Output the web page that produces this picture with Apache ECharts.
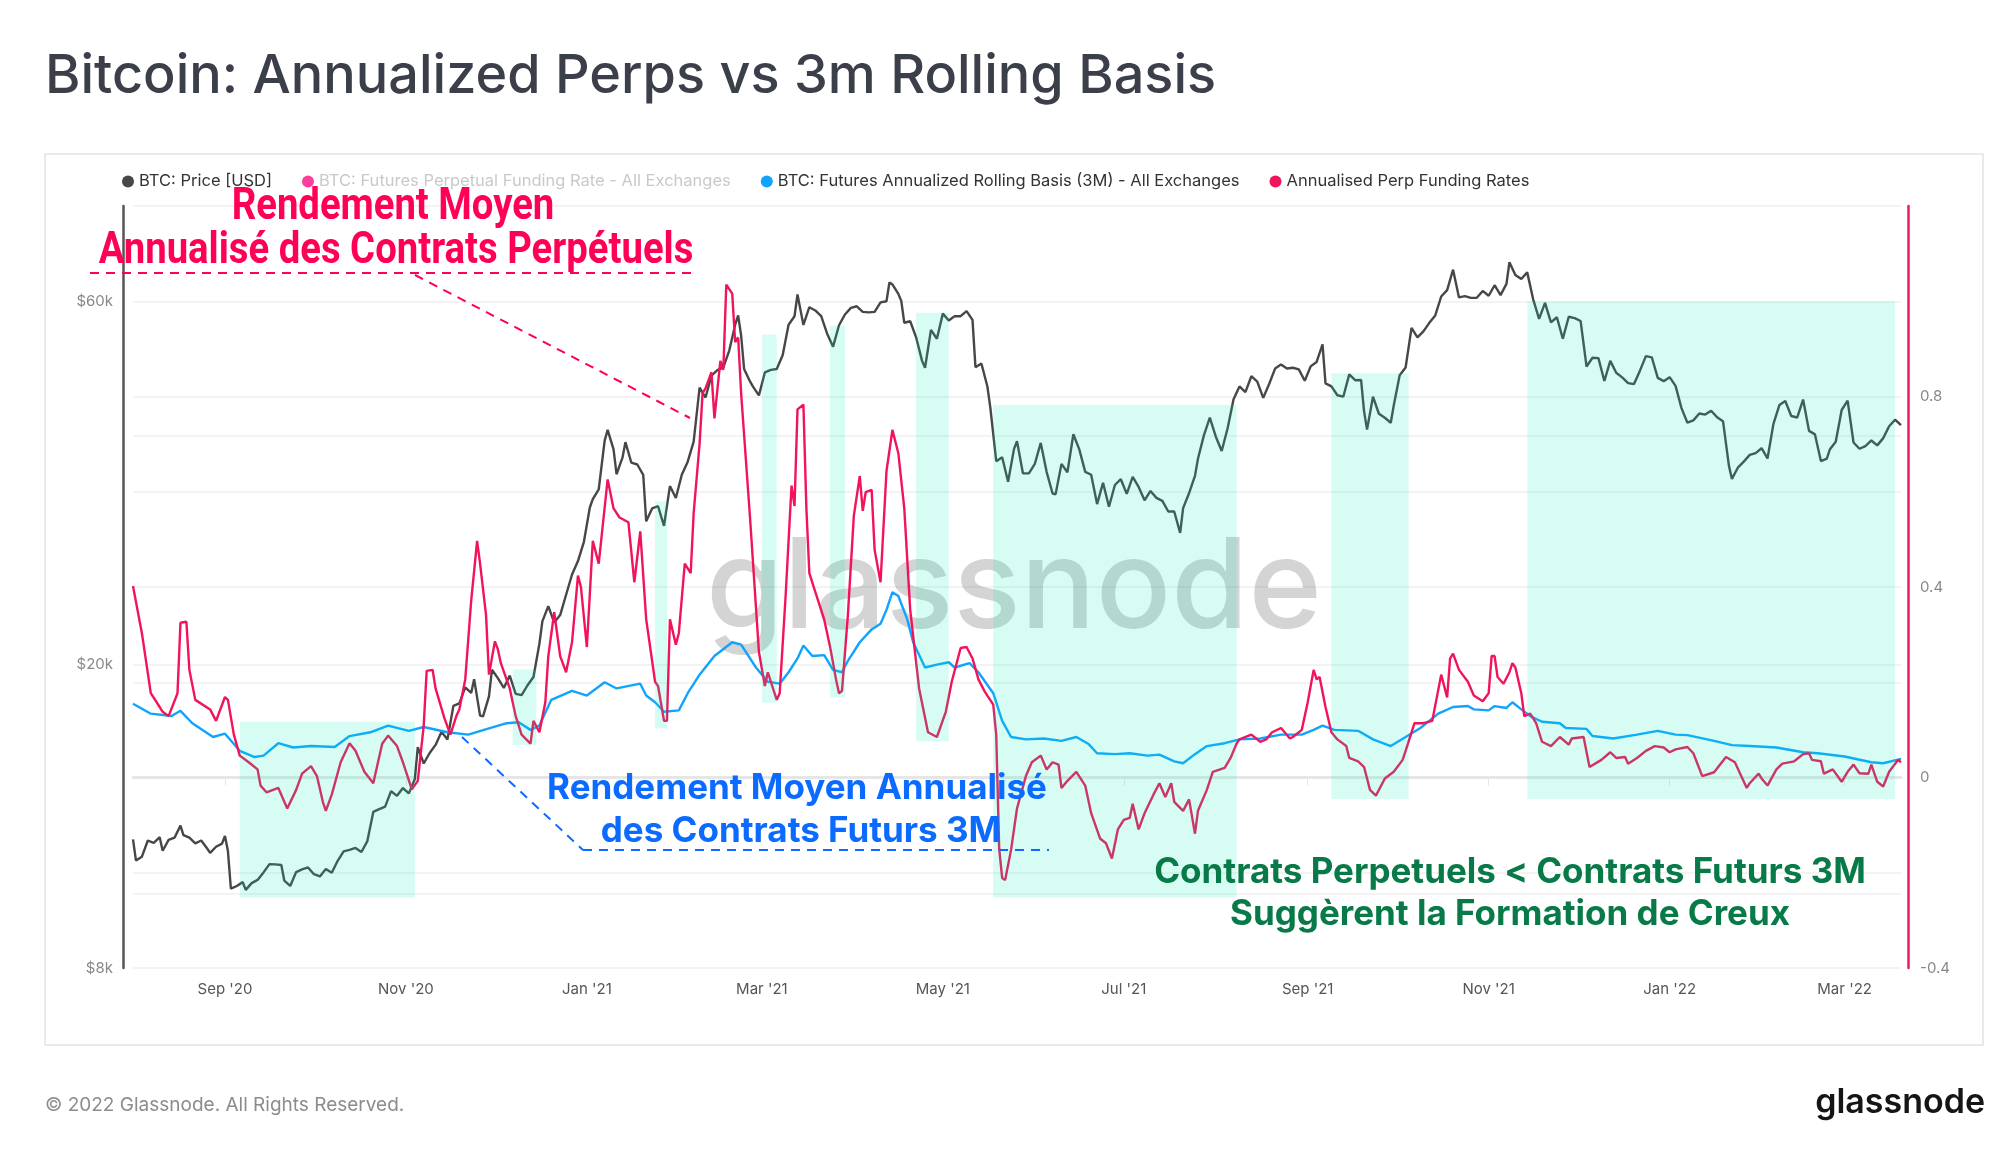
<!DOCTYPE html>
<html>
<head>
<meta charset="utf-8">
<title>Bitcoin: Annualized Perps vs 3m Rolling Basis</title>
<script src="https://cdn.jsdelivr.net/npm/echarts@6/dist/echarts.min.js"></script>
<style>
  html, body { margin: 0; padding: 0; background: #fff; }
  #main { width: 2000px; height: 1152px; }
</style>
</head>
<body>
<div id="main"></div>
<script>
// BTC price, daily close in USD (left log axis)
var priceDates = [
  '2020-08-01','2020-08-02','2020-08-04','2020-08-06','2020-08-08','2020-08-10','2020-08-11','2020-08-13','2020-08-15','2020-08-17','2020-08-18','2020-08-20','2020-08-22','2020-08-24','2020-08-26','2020-08-27','2020-08-29','2020-08-31',
  '2020-09-01','2020-09-02','2020-09-03','2020-09-05','2020-09-07','2020-09-08','2020-09-10','2020-09-12','2020-09-14','2020-09-16','2020-09-18','2020-09-20','2020-09-21','2020-09-23','2020-09-25','2020-09-27','2020-09-29',
  '2020-10-01','2020-10-03','2020-10-05','2020-10-07','2020-10-09','2020-10-11','2020-10-13','2020-10-15','2020-10-17','2020-10-19','2020-10-21','2020-10-23','2020-10-25','2020-10-27','2020-10-29','2020-10-31',
  '2020-11-02','2020-11-04','2020-11-05','2020-11-07','2020-11-09','2020-11-11','2020-11-13','2020-11-15','2020-11-17','2020-11-19','2020-11-21','2020-11-23','2020-11-24','2020-11-26','2020-11-27','2020-11-29','2020-11-30',
  '2020-12-02','2020-12-04','2020-12-06','2020-12-08','2020-12-10','2020-12-12','2020-12-14','2020-12-16','2020-12-17','2020-12-19','2020-12-21','2020-12-23','2020-12-25','2020-12-27','2020-12-29','2020-12-31',
  '2021-01-02','2021-01-03','2021-01-05','2021-01-07','2021-01-08','2021-01-10','2021-01-11','2021-01-13','2021-01-14','2021-01-16','2021-01-18','2021-01-20','2021-01-21','2021-01-23','2021-01-25','2021-01-27','2021-01-29','2021-01-31',
  '2021-02-02','2021-02-04','2021-02-06','2021-02-08','2021-02-10','2021-02-12','2021-02-14','2021-02-16','2021-02-18','2021-02-20','2021-02-21','2021-02-22','2021-02-23','2021-02-25','2021-02-26','2021-02-28',
  '2021-03-02','2021-03-04','2021-03-06','2021-03-08','2021-03-10','2021-03-12','2021-03-13','2021-03-15','2021-03-17','2021-03-19','2021-03-21','2021-03-23','2021-03-25','2021-03-27','2021-03-29','2021-03-31',
  '2021-04-02','2021-04-04','2021-04-06','2021-04-08','2021-04-10','2021-04-12','2021-04-13','2021-04-14','2021-04-16','2021-04-17','2021-04-18','2021-04-20','2021-04-22','2021-04-24','2021-04-25','2021-04-27','2021-04-29',
  '2021-05-01','2021-05-03','2021-05-05','2021-05-07','2021-05-09','2021-05-11','2021-05-12','2021-05-14','2021-05-16','2021-05-17','2021-05-19','2021-05-21','2021-05-23','2021-05-25','2021-05-26','2021-05-28','2021-05-30',
  '2021-06-01','2021-06-03','2021-06-05','2021-06-07','2021-06-08','2021-06-10','2021-06-12','2021-06-14','2021-06-16','2021-06-18','2021-06-20','2021-06-22','2021-06-24','2021-06-26','2021-06-28','2021-06-30',
  '2021-07-02','2021-07-04','2021-07-06','2021-07-08','2021-07-10','2021-07-12','2021-07-14','2021-07-16','2021-07-18','2021-07-20','2021-07-21','2021-07-23','2021-07-25','2021-07-26','2021-07-28','2021-07-30',
  '2021-08-01','2021-08-03','2021-08-05','2021-08-07','2021-08-09','2021-08-11','2021-08-13','2021-08-15','2021-08-17','2021-08-19','2021-08-21','2021-08-23','2021-08-25','2021-08-27','2021-08-29','2021-08-31',
  '2021-09-02','2021-09-04','2021-09-06','2021-09-07','2021-09-09','2021-09-11','2021-09-13','2021-09-15','2021-09-17','2021-09-19','2021-09-20','2021-09-21','2021-09-23','2021-09-25','2021-09-27','2021-09-29','2021-09-30',
  '2021-10-02','2021-10-04','2021-10-06','2021-10-08','2021-10-10','2021-10-12','2021-10-14','2021-10-16','2021-10-18','2021-10-20','2021-10-22','2021-10-24','2021-10-26','2021-10-28','2021-10-30',
  '2021-11-01','2021-11-03','2021-11-05','2021-11-07','2021-11-08','2021-11-10','2021-11-12','2021-11-14','2021-11-16','2021-11-18','2021-11-20','2021-11-22','2021-11-24','2021-11-26','2021-11-28','2021-11-30',
  '2021-12-02','2021-12-04','2021-12-06','2021-12-08','2021-12-10','2021-12-12','2021-12-14','2021-12-16','2021-12-18','2021-12-20','2021-12-22','2021-12-24','2021-12-26','2021-12-28','2021-12-30',
  '2022-01-01','2022-01-03','2022-01-05','2022-01-07','2022-01-09','2022-01-11','2022-01-13','2022-01-15','2022-01-17','2022-01-19','2022-01-21','2022-01-22','2022-01-24','2022-01-26','2022-01-28','2022-01-30',
  '2022-02-01','2022-02-03','2022-02-05','2022-02-07','2022-02-09','2022-02-11','2022-02-13','2022-02-15','2022-02-17','2022-02-19','2022-02-21','2022-02-23','2022-02-24','2022-02-26','2022-02-28',
  '2022-03-02','2022-03-04','2022-03-06','2022-03-08','2022-03-10','2022-03-12','2022-03-14','2022-03-16','2022-03-18','2022-03-20'
];
var priceUsd = [
  11800,11070,11200,11760,11680,11880,11400,11780,11860,12300,11950,11860,11660,11760,11480,11330,11540,11650,
  11920,11390,10170,10250,10370,10130,10340,10440,10680,10950,10940,10920,10420,10250,10690,10780,10840,
  10620,10550,10790,10670,11060,11380,11430,11500,11360,11740,12820,12930,13030,13650,13460,13780,
  13560,14160,15590,14840,15320,15700,16330,15960,17660,17800,18680,18370,19150,17150,17110,18180,19700,
  19210,18650,19360,18320,18250,18800,19270,21310,22800,23880,22720,23240,24710,26270,27360,29000,
  32170,33000,33990,39370,40670,38350,35570,37390,39190,36830,36630,35510,30850,32080,32290,30430,34320,33110,
  35510,36950,39260,46200,44850,47910,48720,49130,51680,55890,57490,54100,48900,47080,46340,45140,
  48380,48760,48880,50970,55870,57330,61240,55850,58920,58340,57350,54400,52300,55790,57630,58800,
  59090,58090,58000,58090,59790,59990,63500,63110,61340,60020,56220,56470,53790,50100,49070,55030,53560,
  57790,56610,57360,57340,58240,56700,49150,49710,46400,43540,37000,37450,34770,38400,39290,35680,35660,
  36690,39100,35800,33560,33470,36700,35780,40140,38350,35820,35510,32500,34660,32240,34430,35040,
  33520,35290,34230,32870,33820,33120,32820,31780,31780,29790,32110,33590,35400,37270,40000,42200,
  39870,38150,40870,44600,46370,45590,47830,47050,44800,46720,48950,49540,48950,49070,48830,47170,
  49280,49940,52660,46810,46390,45160,44960,48100,47260,47280,43010,40700,44960,42700,42190,41560,43790,
  47970,49110,55360,53800,54770,56200,57480,60860,62050,66000,60690,60930,60600,60620,61890,
  61000,62970,61120,63230,67500,64950,64150,65460,60340,56880,59700,56280,57160,53560,57250,57000,
  56510,49250,50580,50520,47140,50100,48340,47660,46850,46710,48640,50820,50640,47590,47120,
  47690,46460,43440,41560,41860,42740,42590,43100,42250,41750,36480,35070,36280,36950,37710,37920,
  38480,37310,41410,43840,44380,42410,42220,44570,40550,40120,37010,37290,38330,39230,43190,
  44420,39150,38420,38730,39390,38810,39670,41120,41940,41250
];

// BTC futures annualized rolling basis (3M), all exchanges (right axis)
var basisDates = [
  '2020-08-01','2020-08-07','2020-08-14','2020-08-17','2020-08-21','2020-08-28','2020-09-01','2020-09-06','2020-09-11','2020-09-14','2020-09-19','2020-09-24','2020-09-30',
  '2020-10-08','2020-10-13','2020-10-20','2020-10-26','2020-11-02','2020-11-07','2020-11-15','2020-11-22','2020-11-29','2020-12-05','2020-12-09','2020-12-13','2020-12-16','2020-12-20','2020-12-27',
  '2021-01-01','2021-01-07','2021-01-11','2021-01-19','2021-01-21','2021-01-24','2021-01-27','2021-02-01','2021-02-04','2021-02-08','2021-02-13','2021-02-19','2021-02-22','2021-02-27',
  '2021-03-03','2021-03-07','2021-03-10','2021-03-13','2021-03-15','2021-03-18','2021-03-22','2021-03-25','2021-03-28','2021-03-30','2021-04-03','2021-04-07','2021-04-10','2021-04-12','2021-04-14','2021-04-16','2021-04-19','2021-04-21','2021-04-25','2021-04-29',
  '2021-05-03','2021-05-05','2021-05-10','2021-05-13','2021-05-18','2021-05-21','2021-05-24','2021-05-29','2021-06-04','2021-06-10','2021-06-15','2021-06-19','2021-06-22','2021-06-28',
  '2021-07-03','2021-07-09','2021-07-13','2021-07-18','2021-07-21','2021-07-25','2021-07-29','2021-08-04','2021-08-09','2021-08-16','2021-08-23','2021-08-30','2021-09-03','2021-09-06','2021-09-10','2021-09-18','2021-09-23','2021-09-29',
  '2021-10-04','2021-10-09','2021-10-15','2021-10-20','2021-10-25','2021-10-27','2021-11-01','2021-11-03','2021-11-07','2021-11-09','2021-11-12','2021-11-15','2021-11-19','2021-11-25','2021-11-27',
  '2021-12-04','2021-12-06','2021-12-13','2021-12-21','2021-12-28','2022-01-03','2022-01-07','2022-01-16','2022-01-22','2022-01-28','2022-02-06','2022-02-15','2022-02-20','2022-03-01','2022-03-10','2022-03-14','2022-03-20'
];
var basisValues = [
  0.155,0.134,0.129,0.140,0.114,0.085,0.092,0.056,0.043,0.046,0.072,0.063,0.066,
  0.064,0.087,0.095,0.109,0.098,0.106,0.095,0.090,0.103,0.114,0.116,0.100,0.109,0.163,0.182,
  0.172,0.200,0.187,0.197,0.172,0.158,0.138,0.141,0.177,0.216,0.255,0.284,0.279,0.231,
  0.201,0.197,0.221,0.250,0.277,0.255,0.257,0.226,0.221,0.245,0.284,0.311,0.323,0.352,0.389,0.381,0.332,0.284,0.231,0.237,
  0.242,0.231,0.240,0.221,0.177,0.119,0.085,0.080,0.082,0.077,0.085,0.071,0.051,0.049,
  0.051,0.046,0.048,0.034,0.030,0.049,0.066,0.072,0.080,0.082,0.090,0.090,0.100,0.109,0.100,0.098,0.080,0.066,
  0.085,0.104,0.134,0.148,0.150,0.143,0.141,0.150,0.146,0.158,0.143,0.129,0.117,0.114,0.104,
  0.102,0.087,0.082,0.090,0.098,0.090,0.089,0.077,0.068,0.066,0.063,0.053,0.051,0.044,0.032,0.030,0.039
];

// Annualised perpetual funding rate (right axis)
var perpDates = [
  '2020-08-01','2020-08-04','2020-08-07','2020-08-10','2020-08-11','2020-08-13','2020-08-16','2020-08-17','2020-08-19','2020-08-20','2020-08-22','2020-08-27','2020-08-29',
  '2020-09-01','2020-09-02','2020-09-04','2020-09-06','2020-09-09','2020-09-12','2020-09-13','2020-09-15','2020-09-19','2020-09-22','2020-09-25','2020-09-27','2020-09-30',
  '2020-10-02','2020-10-04','2020-10-05','2020-10-07','2020-10-10','2020-10-13','2020-10-15','2020-10-18','2020-10-21','2020-10-24','2020-10-26','2020-10-29','2020-10-31',
  '2020-11-03','2020-11-05','2020-11-07','2020-11-08','2020-11-10','2020-11-11','2020-11-14','2020-11-16','2020-11-18','2020-11-19','2020-11-21','2020-11-23','2020-11-25','2020-11-26','2020-11-28','2020-11-29',
  '2020-12-01','2020-12-02','2020-12-03','2020-12-06','2020-12-08','2020-12-10','2020-12-13','2020-12-14','2020-12-16','2020-12-18','2020-12-19','2020-12-21','2020-12-23','2020-12-25','2020-12-27','2020-12-29','2020-12-30',
  '2021-01-01','2021-01-03','2021-01-05','2021-01-08','2021-01-10','2021-01-12','2021-01-15','2021-01-17','2021-01-19','2021-01-21','2021-01-24','2021-01-25','2021-01-27','2021-01-28','2021-01-29','2021-01-31',
  '2021-02-01','2021-02-03','2021-02-05','2021-02-06','2021-02-08','2021-02-09','2021-02-10','2021-02-12','2021-02-13','2021-02-15','2021-02-16','2021-02-17','2021-02-19','2021-02-20','2021-02-21','2021-02-22','2021-02-25','2021-02-28',
  '2021-03-02','2021-03-03','2021-03-06','2021-03-07','2021-03-09','2021-03-11','2021-03-12','2021-03-13','2021-03-15','2021-03-16','2021-03-17','2021-03-19','2021-03-22','2021-03-24','2021-03-26','2021-03-27','2021-03-28','2021-03-30',
  '2021-04-01','2021-04-03','2021-04-04','2021-04-05','2021-04-07','2021-04-08','2021-04-10','2021-04-12','2021-04-14','2021-04-16','2021-04-18','2021-04-20','2021-04-23','2021-04-26','2021-04-29',
  '2021-05-02','2021-05-04','2021-05-07','2021-05-09','2021-05-11','2021-05-13','2021-05-15','2021-05-16','2021-05-18','2021-05-19','2021-05-20','2021-05-21','2021-05-22','2021-05-24','2021-05-26','2021-05-29','2021-05-31',
  '2021-06-03','2021-06-05','2021-06-07','2021-06-09','2021-06-10','2021-06-12','2021-06-15','2021-06-18','2021-06-20','2021-06-23','2021-06-25','2021-06-27','2021-06-29',
  '2021-07-01','2021-07-03','2021-07-04','2021-07-06','2021-07-08','2021-07-11','2021-07-13','2021-07-15','2021-07-17','2021-07-18','2021-07-21','2021-07-23','2021-07-25','2021-07-26','2021-07-29','2021-07-31',
  '2021-08-04','2021-08-06','2021-08-08','2021-08-09','2021-08-13','2021-08-16','2021-08-18','2021-08-20','2021-08-23','2021-08-26','2021-08-27','2021-08-30',
  '2021-09-01','2021-09-03','2021-09-04','2021-09-05','2021-09-07','2021-09-09','2021-09-11','2021-09-14','2021-09-15','2021-09-18','2021-09-20','2021-09-22','2021-09-24','2021-09-27','2021-09-30',
  '2021-10-03','2021-10-04','2021-10-07','2021-10-10','2021-10-13','2021-10-16','2021-10-18','2021-10-19','2021-10-20','2021-10-22','2021-10-25','2021-10-27','2021-10-30',
  '2021-11-01','2021-11-02','2021-11-03','2021-11-04','2021-11-06','2021-11-08','2021-11-09','2021-11-10','2021-11-12','2021-11-13','2021-11-15','2021-11-17','2021-11-19','2021-11-22','2021-11-25','2021-11-28','2021-11-29',
  '2021-12-03','2021-12-05','2021-12-09','2021-12-12','2021-12-14','2021-12-17','2021-12-18','2021-12-21','2021-12-24','2021-12-27','2021-12-30',
  '2022-01-01','2022-01-03','2022-01-07','2022-01-09','2022-01-12','2022-01-16','2022-01-20','2022-01-23','2022-01-27','2022-01-28','2022-01-31',
  '2022-02-01','2022-02-03','2022-02-06','2022-02-08','2022-02-12','2022-02-15','2022-02-17','2022-02-18','2022-02-21','2022-02-22','2022-02-25','2022-02-28',
  '2022-03-02','2022-03-04','2022-03-06','2022-03-09','2022-03-10','2022-03-12','2022-03-14','2022-03-16','2022-03-19','2022-03-20'
];
var perpValues = [
  0.402,0.303,0.177,0.148,0.138,0.129,0.177,0.325,0.327,0.226,0.163,0.143,0.119,
  0.169,0.163,0.090,0.046,0.032,0.017,-0.017,-0.031,-0.022,-0.065,-0.026,0.008,0.024,
  0.003,-0.051,-0.070,-0.036,0.032,0.072,0.056,0.012,-0.012,0.071,0.088,0.066,0.032,
  -0.025,-0.007,0.109,0.224,0.226,0.187,0.124,0.090,0.129,0.143,0.206,0.371,0.497,0.449,0.342,0.216,
  0.286,0.269,0.240,0.187,0.129,0.090,0.071,0.119,0.095,0.158,0.255,0.347,0.255,0.221,0.284,0.424,0.400,
  0.274,0.497,0.449,0.626,0.565,0.546,0.536,0.410,0.517,0.332,0.201,0.192,0.119,0.119,0.332,0.279,
  0.303,0.449,0.429,0.555,0.701,0.807,0.817,0.851,0.754,0.875,0.856,1.035,1.016,0.914,0.924,0.807,0.546,0.264,
  0.192,0.221,0.163,0.177,0.381,0.613,0.570,0.773,0.783,0.565,0.429,0.390,0.332,0.274,0.206,0.177,0.182,0.342,
  0.550,0.633,0.560,0.599,0.604,0.478,0.410,0.643,0.730,0.681,0.565,0.352,0.187,0.095,0.085,
  0.138,0.201,0.272,0.274,0.250,0.206,0.182,0.172,0.153,0.090,-0.150,-0.211,-0.215,-0.152,-0.065,0.003,0.032,
  0.046,0.017,0.032,0.027,-0.022,-0.007,0.012,-0.017,-0.075,-0.128,-0.138,-0.170,-0.109,
  -0.089,-0.085,-0.055,-0.109,-0.075,-0.036,-0.012,-0.041,-0.012,-0.051,-0.070,-0.046,-0.118,-0.070,-0.026,0.012,
  0.020,0.041,0.071,0.080,0.090,0.075,0.080,0.095,0.104,0.082,0.085,0.100,
  0.158,0.226,0.206,0.211,0.148,0.095,0.080,0.066,0.041,0.034,0.022,-0.026,-0.038,-0.002,0.012,
  0.037,0.056,0.114,0.114,0.119,0.216,0.168,0.250,0.260,0.226,0.201,0.172,0.160,
  0.177,0.255,0.255,0.211,0.197,0.221,0.240,0.231,0.177,0.129,0.134,0.114,0.075,0.066,0.085,0.069,0.082,
  0.085,0.022,0.037,0.053,0.041,0.043,0.029,0.041,0.056,0.066,0.063,
  0.053,0.059,0.064,0.051,0.003,0.011,0.043,0.032,-0.022,-0.012,0.008,
  -0.002,-0.017,0.017,0.029,0.034,0.049,0.051,0.037,0.034,0.008,0.017,-0.009,
  0.012,0.027,0.009,0.008,0.027,-0.009,-0.019,0.012,0.037,0.032
];

// periods where perps trade below the 3M basis (shaded)
var bandStart  = ['2020-09-06','2020-12-07','2021-01-24','2021-03-01','2021-03-24','2021-04-22','2021-05-18','2021-09-09','2021-11-14'];
var bandEnd    = ['2020-11-04','2020-12-15','2021-01-28','2021-03-06','2021-03-29','2021-05-03','2021-08-08','2021-10-05','2022-03-18'];
var bandTop    = [0.117, 0.227, 0.580, 0.930, 0.949, 0.976, 0.782, 0.849, 1.000];
var bandBottom = [-0.252, 0.068, 0.103, 0.157, 0.168, 0.076, -0.252, -0.045, -0.045];

// axis ticks
var dateMin = '2020-08-01';
var dateMax = '2022-03-20';
var monthTicks = ['2020-09-01','2020-11-01','2021-01-01','2021-03-01','2021-05-01','2021-07-01','2021-09-01','2021-11-01','2022-01-01','2022-03-01'];
var monthNames = ['Jan','Feb','Mar','Apr','May','Jun','Jul','Aug','Sep','Oct','Nov','Dec'];
var priceLabels = [8000, 20000, 60000];
var priceGrid = [10000, 20000, 40000];
var rateLabels = [-0.4, 0, 0.4, 0.8];

var legendNames = [
  'BTC: Price [USD]',
  'BTC: Futures Perpetual Funding Rate - All Exchanges',
  'BTC: Futures Annualized Rolling Basis (3M) - All Exchanges',
  'Annualised Perp Funding Rates'
];

// 'YYYY-MM-DD' -> local midnight timestamp
function ts(s) {
  return new Date(s + 'T00:00:00').getTime();
}

function zip(xs, ys) {
  return xs.map(function (x, i) { return [ts(x), ys[i]]; });
}

var bandData = bandStart.map(function (s, i) {
  return [ts(s), ts(bandEnd[i]), bandTop[i], bandBottom[i]];
});

var myChart = echarts.init(document.getElementById('main'), null, { renderer: 'canvas' });

var lineBase = { type: 'line', showSymbol: false, symbol: 'none', smooth: false, animation: false };

var option = {
  backgroundColor: '#ffffff',
  animation: false,
  textStyle: { fontFamily: 'Inter, Roboto, sans-serif' },
  legend: {
    left: 117,
    top: 168,
    icon: 'circle',
    itemWidth: 12,
    itemHeight: 12,
    itemGap: 30,
    textStyle: { fontSize: 16.5, color: '#333', fontFamily: 'Inter' },
    data: [
      { name: legendNames[0] },
      { name: legendNames[1], textStyle: { color: '#c9c9c9' } },
      { name: legendNames[2] },
      { name: legendNames[3] }
    ]
  },
  grid: { left: 133, right: 99, top: 206, bottom: 184 },
  xAxis: {
    type: 'value',
    min: ts(dateMin),
    max: ts(dateMax),
    axisLine: { show: true, lineStyle: { color: '#e6e6e6', width: 3 } },
    axisTick: { show: true, length: 8, customValues: monthTicks.map(ts), lineStyle: { color: '#e6e6e6', width: 1 } },
    axisLabel: {
      customValues: monthTicks.map(ts),
      margin: 14,
      fontSize: 15,
      color: '#555',
      fontFamily: 'Inter',
      formatter: function (v) {
        var d = new Date(v);
        return monthNames[d.getMonth()] + " '" + String(d.getFullYear()).slice(2);
      }
    },
    splitLine: { show: false }
  },
  yAxis: [
    {
      type: 'log',
      logBase: 10,
      min: 8000,
      max: 80000,
      position: 'left',
      offset: 10,
      axisLine: { show: true, lineStyle: { color: '#555', width: 2.5 } },
      axisTick: { show: false, customValues: priceGrid },
      axisLabel: {
        customValues: priceLabels,
        margin: 10,
        fontSize: 15,
        color: '#888',
        fontFamily: 'Inter',
        formatter: function (v) { return '$' + Math.round(v / 1000) + 'k'; }
      },
      splitLine: { show: true, lineStyle: { color: '#efefef', width: 1.5 } }
    },
    {
      type: 'value',
      min: -0.4,
      max: 1.2,
      interval: 0.2,
      position: 'right',
      offset: 7,
      axisLine: { show: true, lineStyle: { color: '#f0185c', width: 2.5 } },
      axisTick: { show: false },
      axisLabel: {
        customValues: rateLabels,
        margin: 12,
        fontSize: 15,
        color: '#888',
        fontFamily: 'Inter',
        formatter: function (v) { return Math.abs(v) < 1e-9 ? '0' : String(Math.round(v * 10) / 10); }
      },
      splitLine: { show: true, lineStyle: { color: '#efefef', width: 1.5 } }
    }
  ],
  series: [
    Object.assign({}, lineBase, {
      name: legendNames[0],
      yAxisIndex: 0,
      z: 3,
      color: '#474747',
      lineStyle: { color: '#474747', width: 2.4 },
      data: zip(priceDates, priceUsd)
    }),
    Object.assign({}, lineBase, {
      name: legendNames[1],
      yAxisIndex: 1,
      color: '#ff3d9e',
      data: []
    }),
    Object.assign({}, lineBase, {
      name: legendNames[2],
      yAxisIndex: 1,
      z: 4,
      color: '#10a4ff',
      lineStyle: { color: '#10a4ff', width: 2.4 },
      data: zip(basisDates, basisValues)
    }),
    Object.assign({}, lineBase, {
      name: legendNames[3],
      yAxisIndex: 1,
      z: 5,
      color: '#f2145a',
      lineStyle: { color: '#f2145a', width: 2.4 },
      data: zip(perpDates, perpValues)
    }),
    {
      // shaded periods, drawn over the lines as a light overlay
      type: 'custom',
      name: 'bands',
      yAxisIndex: 1,
      z: 6,
      silent: true,
      animation: false,
      encode: { x: [0, 1], y: [2, 3] },
      renderItem: function (params, api) {
        var p0 = api.coord([api.value(0), api.value(2)]);
        var p1 = api.coord([api.value(1), api.value(3)]);
        return {
          type: 'rect',
          shape: { x: p0[0], y: p0[1], width: p1[0] - p0[0], height: p1[1] - p0[1] },
          style: { fill: 'rgba(0, 235, 185, 0.16)' }
        };
      },
      data: bandData
    }
  ],
  graphic: [
    // card border
    { type: 'rect', z: 0, silent: true, shape: { x: 45, y: 154, width: 1938, height: 891 },
      style: { fill: 'none', stroke: '#e4e4e4', lineWidth: 1.5 } },
    // title
    { type: 'text', z: 100, x: 45, y: 77, silent: true,
      style: { text: 'Bitcoin: Annualized Perps vs 3m Rolling Basis', fill: '#3b3f4a',
        fontFamily: 'Inter', fontSize: 54, fontWeight: 500, textAlign: 'left', textVerticalAlign: 'middle' } },
    // watermark
    { type: 'text', z: 1, x: 1014, y: 590, silent: true,
      style: { text: 'glassnode', fill: 'rgba(0,0,0,0.17)', fontFamily: 'Inter', fontSize: 125, fontWeight: 500,
        textAlign: 'center', textVerticalAlign: 'middle' } },
    // footer
    { type: 'text', z: 100, x: 45, y: 1105, silent: true,
      style: { text: '\u00a9 2022 Glassnode. All Rights Reserved.', fill: '#8c8c8c', fontFamily: 'Inter', fontSize: 19,
        textAlign: 'left', textVerticalAlign: 'middle' } },
    { type: 'text', z: 100, x: 1985, y: 1103, silent: true,
      style: { text: 'glassnode', fill: '#151515', fontFamily: 'Inter', fontSize: 34, fontWeight: 600,
        textAlign: 'right', textVerticalAlign: 'middle' } },
    // pink annotation
    { type: 'text', z: 100, x: 393, y: 208, scaleX: 0.87, silent: true,
      style: { text: 'Rendement Moyen', fill: '#ff0055', fontFamily: 'Roboto', fontSize: 44, fontWeight: 'bold',
        textAlign: 'center', textVerticalAlign: 'middle' } },
    { type: 'text', z: 100, x: 396, y: 252, scaleX: 0.87, silent: true,
      style: { text: 'Annualisé des Contrats Perpétuels', fill: '#ff0055', fontFamily: 'Roboto', fontSize: 44, fontWeight: 'bold',
        textAlign: 'center', textVerticalAlign: 'middle' } },
    { type: 'line', z: 100, silent: true, shape: { x1: 90, y1: 273, x2: 692, y2: 273 },
      style: { stroke: '#ff0055', lineWidth: 2, lineDash: [9, 7] } },
    { type: 'line', z: 100, silent: true, shape: { x1: 415, y1: 275, x2: 690, y2: 418 },
      style: { stroke: '#ff0055', lineWidth: 2, lineDash: [9, 7] } },
    // blue annotation
    { type: 'text', z: 100, x: 797, y: 788, silent: true,
      style: { text: 'Rendement Moyen Annualisé', fill: '#0b6bff', fontFamily: 'Inter', fontSize: 35, fontWeight: 'bold',
        textAlign: 'center', textVerticalAlign: 'middle' } },
    { type: 'text', z: 100, x: 801, y: 831, silent: true,
      style: { text: 'des Contrats Futurs 3M', fill: '#0b6bff', fontFamily: 'Inter', fontSize: 35, fontWeight: 'bold',
        textAlign: 'center', textVerticalAlign: 'middle' } },
    { type: 'line', z: 100, silent: true, shape: { x1: 583, y1: 850, x2: 1049, y2: 850 },
      style: { stroke: '#0b6bff', lineWidth: 2, lineDash: [9, 7] } },
    { type: 'line', z: 100, silent: true, shape: { x1: 462, y1: 737, x2: 583, y2: 850 },
      style: { stroke: '#0b6bff', lineWidth: 2, lineDash: [9, 7] } },
    // green annotation
    { type: 'text', z: 100, x: 1510, y: 872, silent: true,
      style: { text: 'Contrats Perpetuels < Contrats Futurs 3M', fill: '#087a47', fontFamily: 'Inter', fontSize: 35, fontWeight: 'bold',
        textAlign: 'center', textVerticalAlign: 'middle' } },
    { type: 'text', z: 100, x: 1510, y: 914, silent: true,
      style: { text: 'Suggèrent la Formation de Creux', fill: '#087a47', fontFamily: 'Inter', fontSize: 35, fontWeight: 'bold',
        textAlign: 'center', textVerticalAlign: 'middle' } }
  ]
};

myChart.setOption(option);
</script>
</body>
</html>
